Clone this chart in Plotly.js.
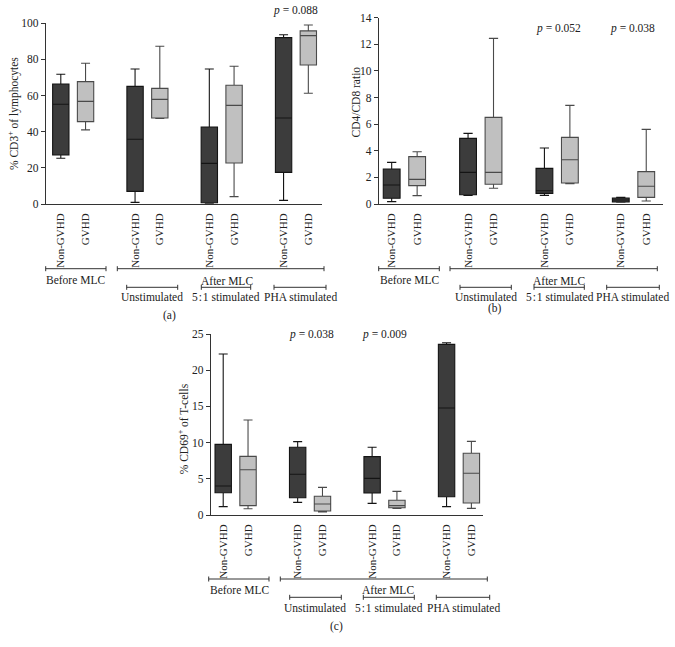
<!DOCTYPE html>
<html>
<head>
<meta charset="utf-8">
<script src="https://cdn.plot.ly/plotly-3.0.1.min.js"></script>
<style>html,body{margin:0;padding:0;background:#fff;}#chart{width:675px;height:647px;}</style>
</head>
<body>
<div id="chart"></div>
<script>
// ---------- data ----------
const tickLabels = ['Non-GVHD','GVHD','Non-GVHD','GVHD','Non-GVHD','GVHD','Non-GVHD','GVHD'];
const nonPos = [0, 3, 6, 9];
const gvhdPos = [1, 4, 7, 10];

// (a) % CD3+ of lymphocytes
const cd3Non_low = [25.3, 0.9, 0.4, 2.0];
const cd3Non_q1  = [27.1, 7.0, 0.7, 17.5];
const cd3Non_med = [55.2, 35.8, 22.5, 47.6];
const cd3Non_q3  = [66.4, 65.1, 42.6, 92.1];
const cd3Non_high= [71.8, 74.7, 74.7, 93.7];
const cd3Gv_low  = [41.0, 47.4, 4.1, 61.3];
const cd3Gv_q1   = [45.6, 47.6, 22.7, 76.9];
const cd3Gv_med  = [56.8, 57.9, 54.6, 93.2];
const cd3Gv_q3   = [67.7, 64.0, 65.7, 95.8];
const cd3Gv_high = [77.9, 87.3, 76.2, 99.1];

// (b) CD4/CD8 ratio
const rNon_low = [0.18, 0.65, 0.65, 0.13];
const rNon_q1  = [0.43, 0.70, 0.80, 0.15];
const rNon_med = [1.43, 2.38, 1.00, 0.30];
const rNon_q3  = [2.63, 4.93, 2.68, 0.45];
const rNon_high= [3.13, 5.31, 4.21, 0.50];
const rGv_low  = [0.63, 1.18, 1.53, 0.23];
const rGv_q1   = [1.38, 1.48, 1.58, 0.50];
const rGv_med  = [1.85, 2.38, 3.33, 1.33];
const rGv_q3   = [3.56, 6.51, 5.01, 2.43];
const rGv_high = [3.93, 12.45, 7.41, 5.61];

// (c) % CD69+ of T-cells
const cd69Non_low = [1.15, 1.75, 1.61, 1.15];
const cd69Non_q1  = [3.08, 2.39, 3.04, 2.53];
const cd69Non_med = [4.00, 5.62, 5.06, 14.78];
const cd69Non_q3  = [9.76, 9.35, 8.06, 23.57];
const cd69Non_high= [22.24, 10.13, 9.35, 23.80];
const cd69Gv_low  = [0.87, 0.41, 0.92, 0.92];
const cd69Gv_q1   = [1.29, 0.55, 1.01, 1.66];
const cd69Gv_med  = [6.26, 1.52, 1.29, 5.76];
const cd69Gv_q3   = [8.10, 2.58, 2.03, 8.52];
const cd69Gv_high = [13.12, 3.82, 3.27, 10.17];

const pTexts = ['<i>p</i> = 0.088', '<i>p</i> = 0.052', '<i>p</i> = 0.038', '<i>p</i> = 0.038', '<i>p</i> = 0.009'];
const bracketTexts = ['Before MLC', 'After MLC', 'Unstimulated', '5\u200a:\u200a1 stimulated', 'PHA stimulated'];

// ---------- styles ----------
const FONT = 'Liberation Serif, Times New Roman, serif';
const W = 675, H = 647;
const px = x => x / W;
const py = y => 1 - y / H;
const darkFill = '#3c3c3c', darkLine = '#141414';
const lightFill = '#c0c0c0', lightLine = '#4a4a4a';

function boxTrace(x, lo, q1, med, q3, hi, fill, line, xa, ya) {
  return {
    type: 'box', x: x, lowerfence: lo, q1: q1, median: med, q3: q3, upperfence: hi,
    fillcolor: fill, line: {color: line, width: 1.1}, width: 0.66, whiskerwidth: 0.55,
    boxpoints: false, xaxis: xa, yaxis: ya, showlegend: false, hoverinfo: 'y'
  };
}

const data = [
  boxTrace(nonPos, cd3Non_low, cd3Non_q1, cd3Non_med, cd3Non_q3, cd3Non_high, darkFill, darkLine, 'x', 'y'),
  boxTrace(gvhdPos, cd3Gv_low, cd3Gv_q1, cd3Gv_med, cd3Gv_q3, cd3Gv_high, lightFill, lightLine, 'x', 'y'),
  boxTrace(nonPos, rNon_low, rNon_q1, rNon_med, rNon_q3, rNon_high, darkFill, darkLine, 'x2', 'y2'),
  boxTrace(gvhdPos, rGv_low, rGv_q1, rGv_med, rGv_q3, rGv_high, lightFill, lightLine, 'x2', 'y2'),
  boxTrace(nonPos, cd69Non_low, cd69Non_q1, cd69Non_med, cd69Non_q3, cd69Non_high, darkFill, darkLine, 'x3', 'y3'),
  boxTrace(gvhdPos, cd69Gv_low, cd69Gv_q1, cd69Gv_med, cd69Gv_q3, cd69Gv_high, lightFill, lightLine, 'x3', 'y3')
];

function xAxis(domain, range, anchor) {
  return {
    domain: domain, range: range, anchor: anchor,
    tickmode: 'array', tickvals: nonPos.concat(gvhdPos).sort((a,b)=>a-b), ticktext: tickLabels,
    tickangle: -90, ticks: '', ticklabelstandoff: 4,
    showline: true, linecolor: '#333', linewidth: 1, showgrid: false, zeroline: false,
    tickfont: {family: FONT, size: 11, color: '#222'}, fixedrange: true
  };
}
function yAxis(domain, range, dtick, anchor) {
  return {
    domain: domain, range: range, dtick: dtick, tick0: 0, anchor: anchor,
    ticks: 'outside', ticklen: 4, tickcolor: '#333', tickwidth: 1,
    showline: true, linecolor: '#333', linewidth: 1, showgrid: false, zeroline: false,
    tickfont: {family: FONT, size: 11.5, color: '#222'}, fixedrange: true
  };
}

// brackets (pixel geometry)
const shapes = [];
function bracket(x0, x1, y) {
  const ln = {color: '#333', width: 1};
  shapes.push({type: 'line', xref: 'paper', yref: 'paper', x0: px(x0), x1: px(x1), y0: py(y), y1: py(y), line: ln});
  shapes.push({type: 'line', xref: 'paper', yref: 'paper', x0: px(x0), x1: px(x0), y0: py(y - 2.5), y1: py(y + 2.5), line: ln});
  shapes.push({type: 'line', xref: 'paper', yref: 'paper', x0: px(x1), x1: px(x1), y0: py(y - 2.5), y1: py(y + 2.5), line: ln});
}
const annotations = [];
function txt(t, x, y, size, angle) {
  annotations.push({text: t, xref: 'paper', yref: 'paper', x: px(x), y: py(y),
    xanchor: 'center', yanchor: 'middle', showarrow: false, textangle: angle || 0,
    font: {family: FONT, size: size || 11.5, color: '#222'}});
}

// panel a
bracket(45.7, 106, 268.7); bracket(117.3, 324, 268.7);
bracket(126.7, 177.7, 287.3); bracket(201.3, 250.7, 287.3); bracket(274, 326, 287.3);
txt(bracketTexts[0], 75.7, 279.5); txt(bracketTexts[1], 226.7, 280.5);
txt(bracketTexts[2], 151.7, 297); txt(bracketTexts[3], 225.7, 297); txt(bracketTexts[4], 300.5, 297);
txt('(a)', 169, 315);
txt(pTexts[0], 295, 11);
txt('% CD3<sup>+</sup> of lymphocytes', 13.5, 113.5, 11.5, -90);

// panel b
bracket(378.7, 439.3, 268.7); bracket(450, 657.3, 268.7);
bracket(460, 511.3, 287.3); bracket(534, 584.3, 287.3); bracket(606.7, 659.3, 287.3);
txt(bracketTexts[0], 409, 279.5); txt(bracketTexts[1], 559, 280.5);
txt(bracketTexts[2], 485.7, 297); txt(bracketTexts[3], 559.7, 297); txt(bracketTexts[4], 632.8, 297);
txt('(b)', 495.3, 308);
txt(pTexts[1], 558.3, 28.3); txt(pTexts[2], 632.3, 28.3);
txt('CD4/CD8 ratio', 355, 102.5, 11.5, -90);

// panel c
bracket(208.7, 269, 579); bracket(280.3, 487.3, 579);
bracket(289.7, 341.3, 597.3); bracket(363.3, 414.3, 597.3); bracket(436.3, 489.7, 597.3);
txt(bracketTexts[0], 239, 589.5); txt(bracketTexts[1], 388.3, 590);
txt(bracketTexts[2], 315.3, 607.5); txt(bracketTexts[3], 388.7, 607.5); txt(bracketTexts[4], 463.2, 607.5);
txt('(c)', 336, 626);
txt(pTexts[3], 311, 334); txt(pTexts[4], 384, 334);
txt('% CD69<sup>+</sup> of T-cells', 183.3, 429, 11.5, -90);

const layout = {
  width: W, height: H, margin: {l: 0, r: 0, t: 0, b: 0},
  paper_bgcolor: '#fff', plot_bgcolor: 'rgba(0,0,0,0)',
  boxmode: 'overlay', showlegend: false,
  font: {family: FONT, size: 11.5, color: '#222'},
  xaxis: xAxis([px(45.7), px(321.7)], [-0.61, 10.54], 'y'),
  yaxis: yAxis([py(204), py(23.3)], [0, 100], 20, 'x'),
  xaxis2: xAxis([px(378.7), px(663.3)], [-0.51, 10.67], 'y2'),
  yaxis2: yAxis([py(204), py(17.7)], [0, 14], 2, 'x2'),
  xaxis3: xAxis([px(210.7), px(483.3)], [-0.504, 10.48], 'y3'),
  yaxis3: yAxis([py(515), py(334)], [0, 25], 5, 'x3'),
  shapes: shapes, annotations: annotations
};

Plotly.newPlot('chart', data, layout, {staticPlot: true, displayModeBar: false});
</script>
</body>
</html>
